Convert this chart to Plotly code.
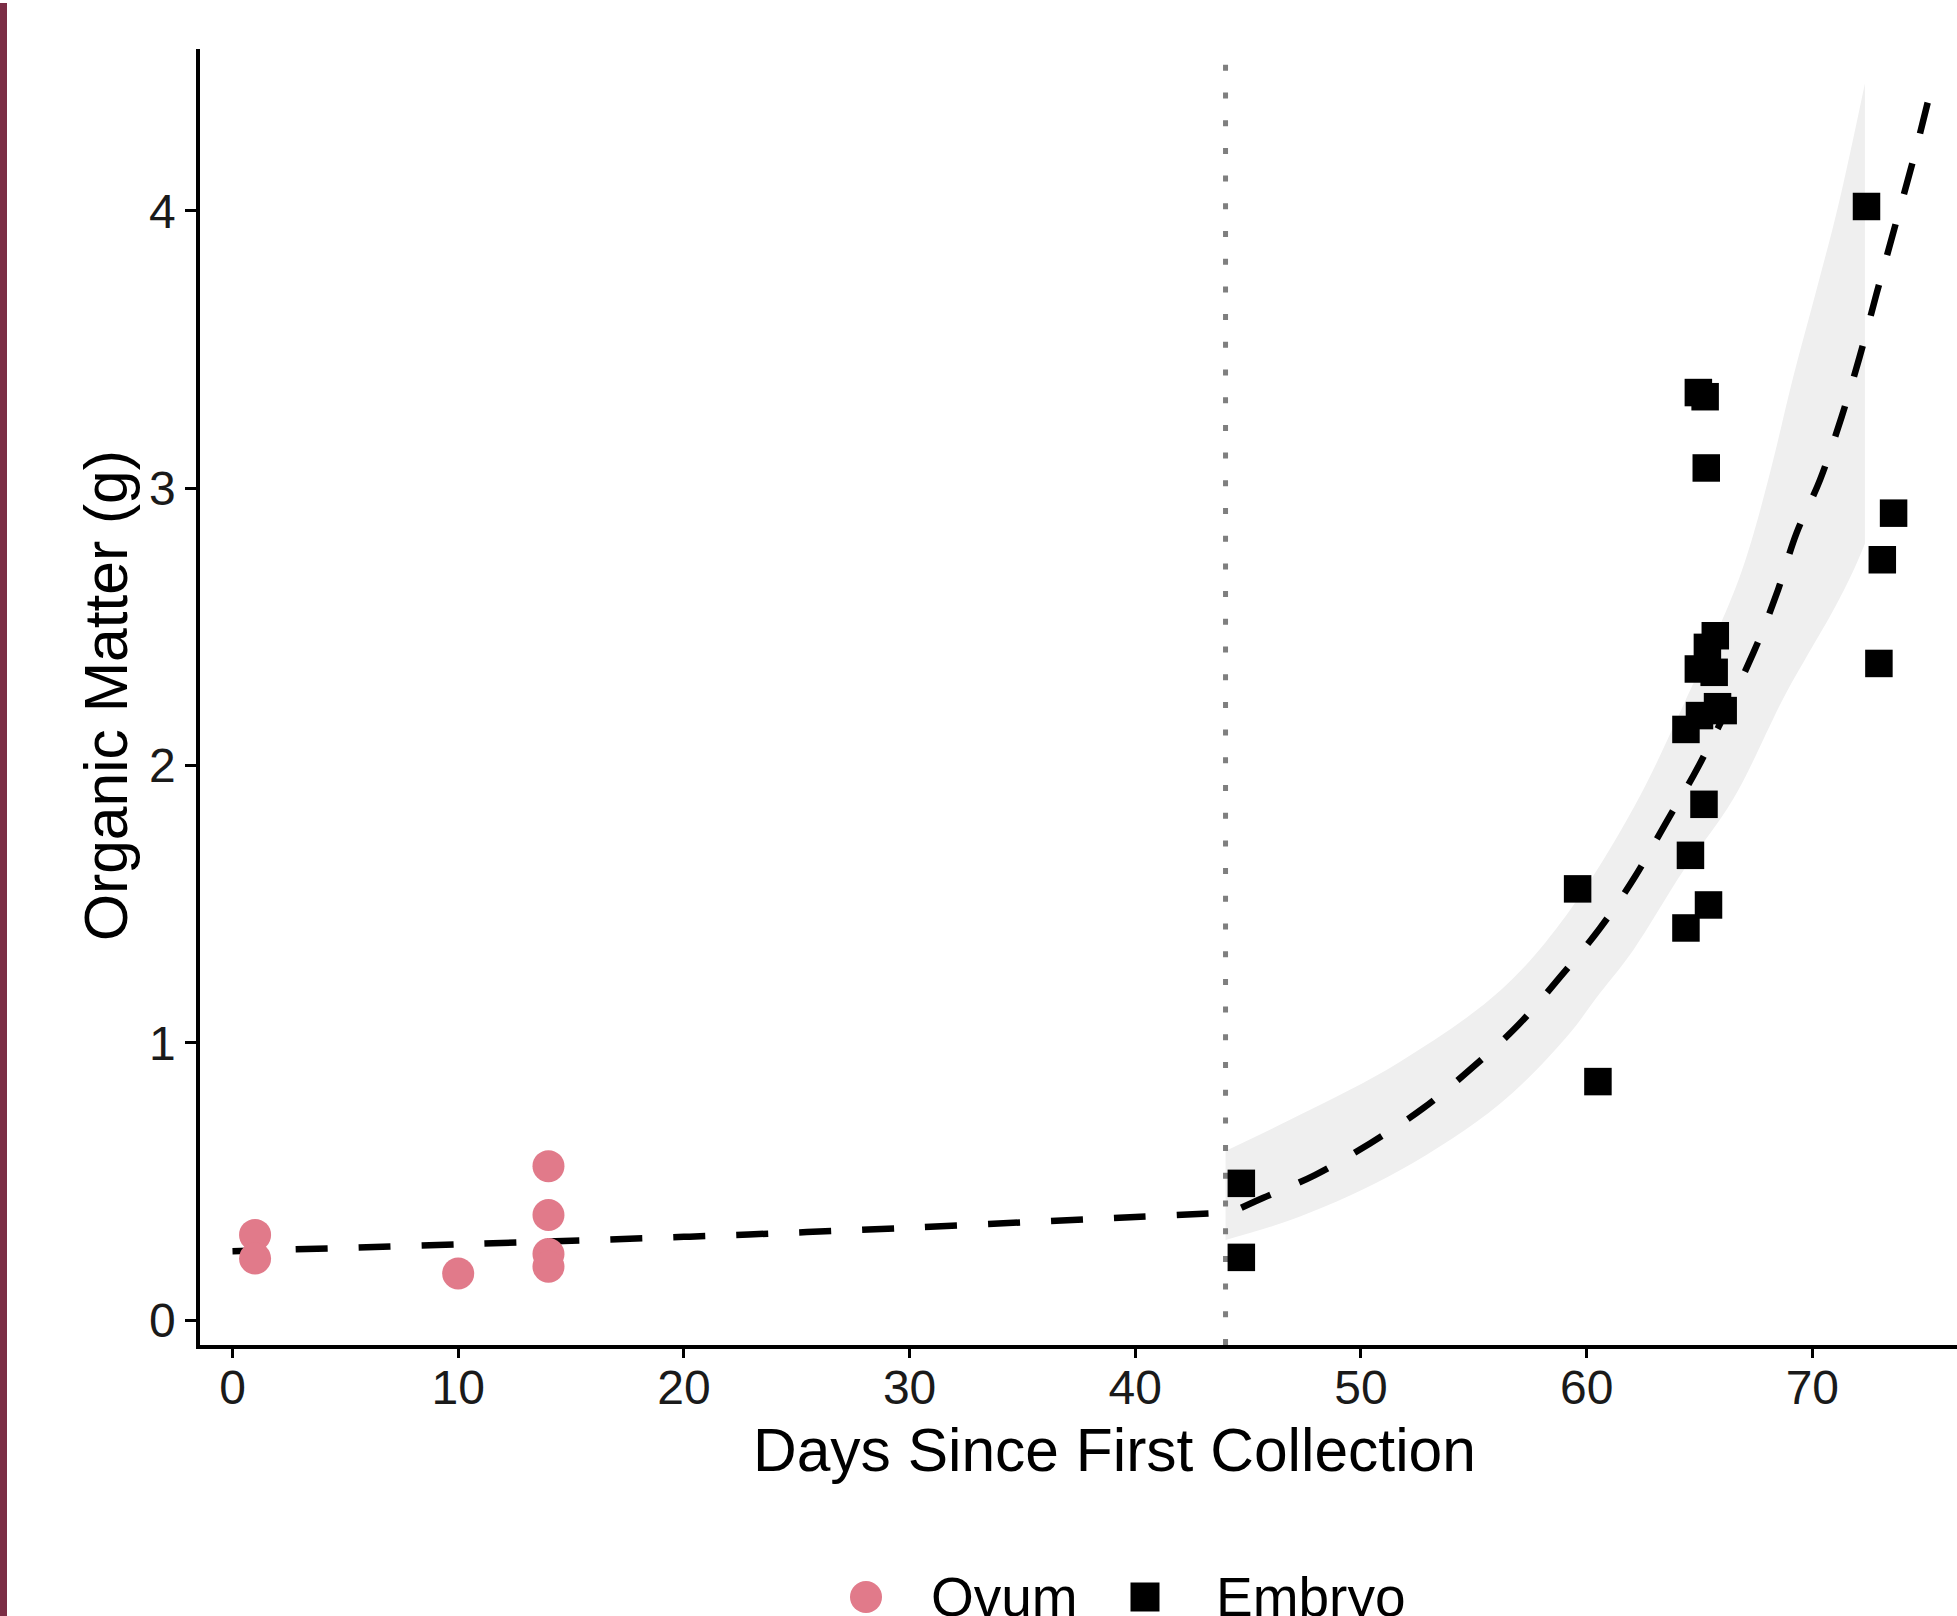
import plotly.graph_objects as go

# ---------------- data ----------------
ovum_day = [1, 1, 10, 14, 14, 14, 14]
ovum_om = [0.307, 0.222, 0.168, 0.555, 0.379, 0.238, 0.192]

embryo_day = [44.7, 44.7, 59.6, 60.5, 64.95, 65.25, 65.3, 65.7, 65.35, 64.95, 65.65,
              65.8, 66.05, 65.0, 64.4, 65.2, 64.6, 65.4, 64.4, 72.4, 73.6, 73.1, 72.95]
embryo_om = [0.493, 0.226, 1.555, 0.86, 3.345, 3.33, 3.073, 2.468, 2.426, 2.348, 2.336,
             2.212, 2.198, 2.18, 2.13, 1.86, 1.676, 1.497, 1.414, 4.016, 2.91, 2.742, 2.368]

ovum_fit_day = [0, 10, 20, 30, 40, 44]
ovum_fit_om = [0.248, 0.273, 0.300, 0.333, 0.372, 0.387]

embryo_fit_day = [44.7, 45.45, 47.96, 50.4, 52.76, 54.9, 56.97, 58.8, 60.59, 62.14, 63.54,
                  64.95, 67.38, 68.4, 69.3, 70.34, 71.3, 72.1, 72.85, 73.58, 74.47, 75.2]
embryo_fit_om = [0.405, 0.433, 0.523, 0.637, 0.764, 0.908, 1.064, 1.235, 1.413, 1.599, 1.797,
                 1.996, 2.405, 2.615, 2.838, 3.03, 3.258, 3.475, 3.703, 3.92, 4.184, 4.42]

band_upper_day = [44.0, 47.3, 51.7, 56.2, 59.1, 62.1, 64.3, 66.5, 67.3, 68.2, 69.15, 70.2, 71.15, 72.33]
band_upper_om = [0.61, 0.74, 0.93, 1.19, 1.46, 1.85, 2.22, 2.62, 2.81, 3.08, 3.40, 3.72, 4.02, 4.46]
band_lower_day = [44.0, 47.3, 51.73, 56.16, 59.1, 60.6, 62.07, 64.28, 66.5, 68.7, 69.8, 70.93, 71.8, 72.33]
band_lower_om = [0.289, 0.373, 0.54, 0.78, 1.02, 1.18, 1.335, 1.62, 1.88, 2.24, 2.40, 2.56, 2.70, 2.80]

transition_day = 44
x_ticks = [0, 10, 20, 30, 40, 50, 60, 70]
y_ticks = [0, 1, 2, 3, 4]
x_range = [-1.44, 76.41]
y_range = [-0.09, 4.584]

x_title = "Days Since First Collection"
y_title = "Organic Matter (g)"
legend_labels = ["Ovum", "Embryo"]

# ---------------- styling / layout ----------------
W, H = 1957, 1616
PL, PR, PT, PB = 200, 1957, 49, 1345
FONT = "Liberation Sans, Arial, Helvetica, sans-serif"
PINK = "#E17A8A"
BAND = "#EFEFEF"


def px_x(p):
    return (p - PL) / (PR - PL)


def px_y(p):
    return (PB - p) / (PB - PT)


fig = go.Figure()

# confidence band (lower edge, then upper edge filled to it)
fig.add_trace(go.Scatter(
    x=band_lower_day, y=band_lower_om, mode="lines", line_shape="spline",
    line=dict(width=0, color=BAND), hoverinfo="skip", showlegend=False))
fig.add_trace(go.Scatter(
    x=band_upper_day, y=band_upper_om, mode="lines", line_shape="spline",
    fill="tonexty", fillcolor=BAND,
    line=dict(width=0, color=BAND), hoverinfo="skip", showlegend=False))

# dotted vertical line at transition
fig.add_trace(go.Scatter(
    x=[transition_day, transition_day], y=y_range, mode="lines",
    line=dict(color="#7F7F7F", width=5, dash="6px,21.7px"),
    hoverinfo="skip", showlegend=False))

# fitted lines
fig.add_trace(go.Scatter(
    x=ovum_fit_day, y=ovum_fit_om, mode="lines", line_shape="spline",
    line=dict(color="black", width=6.5, dash="32px,31px"), showlegend=False))
fig.add_trace(go.Scatter(
    x=embryo_fit_day, y=embryo_fit_om, mode="lines", line_shape="spline",
    line=dict(color="black", width=6.5, dash="32px,31px"), showlegend=False))

# points
fig.add_trace(go.Scatter(
    x=ovum_day, y=ovum_om, mode="markers", name=legend_labels[0],
    marker=dict(symbol="circle", size=32, color=PINK, line=dict(width=0)),
    showlegend=False))
fig.add_trace(go.Scatter(
    x=embryo_day, y=embryo_om, mode="markers", name=legend_labels[1],
    marker=dict(symbol="square", size=27.5, color="black", line=dict(width=0)),
    showlegend=False))

axis_common = dict(
    showline=True, linecolor="black", linewidth=3.5, ticks="outside",
    tickcolor="black", tickwidth=3, showgrid=False, zeroline=False,
    tickfont=dict(family=FONT, size=48, color="#1a1a1a"))

fig.update_xaxes(range=x_range, tickvals=x_ticks, ticklen=9, ticklabelstandoff=-11, **axis_common)
fig.update_yaxes(range=y_range, tickvals=y_ticks, ticklen=11, **axis_common)

annotations = [
    dict(text=x_title, x=px_x(1114.4), y=px_y(1450), xref="paper", yref="paper",
         xanchor="center", yanchor="middle", showarrow=False,
         font=dict(family=FONT, size=60.5, color="black")),
    dict(text=y_title, x=px_x(106), y=px_y(696), xref="paper", yref="paper",
         xanchor="center", yanchor="middle", textangle=-90, showarrow=False,
         font=dict(family=FONT, size=60.5, color="black")),
    dict(text=legend_labels[0], x=px_x(929), y=px_y(1597), xref="paper", yref="paper",
         xanchor="left", yanchor="middle", showarrow=False,
         font=dict(family=FONT, size=55, color="black")),
    dict(text=legend_labels[1], x=px_x(1214), y=px_y(1597), xref="paper", yref="paper",
         xanchor="left", yanchor="middle", showarrow=False,
         font=dict(family=FONT, size=55, color="black")),
]

shapes = [
    # legend symbols
    dict(type="circle", xref="paper", yref="paper",
         x0=px_x(850), x1=px_x(882), y0=px_y(1613), y1=px_y(1581),
         fillcolor=PINK, line=dict(width=0)),
    dict(type="rect", xref="paper", yref="paper",
         x0=px_x(1130.5), x1=px_x(1159.5), y0=px_y(1611.5), y1=px_y(1582.5),
         fillcolor="black", line=dict(width=0)),
    # maroon page border on the left
    dict(type="rect", xref="paper", yref="paper",
         x0=px_x(0), x1=px_x(7), y0=px_y(H + 5), y1=px_y(3),
         fillcolor="#7B2D45", line=dict(width=0)),
]

fig.update_layout(
    width=W, height=H,
    margin=dict(l=PL, r=W - PR, t=PT, b=H - PB, pad=0),
    plot_bgcolor="white", paper_bgcolor="white",
    showlegend=False,
    annotations=annotations, shapes=shapes,
    font=dict(family=FONT),
)

fig.write_html("out.html", config={"displayModeBar": False},
               post_script="document.body.style.margin='0';document.body.style.overflow='hidden';")
